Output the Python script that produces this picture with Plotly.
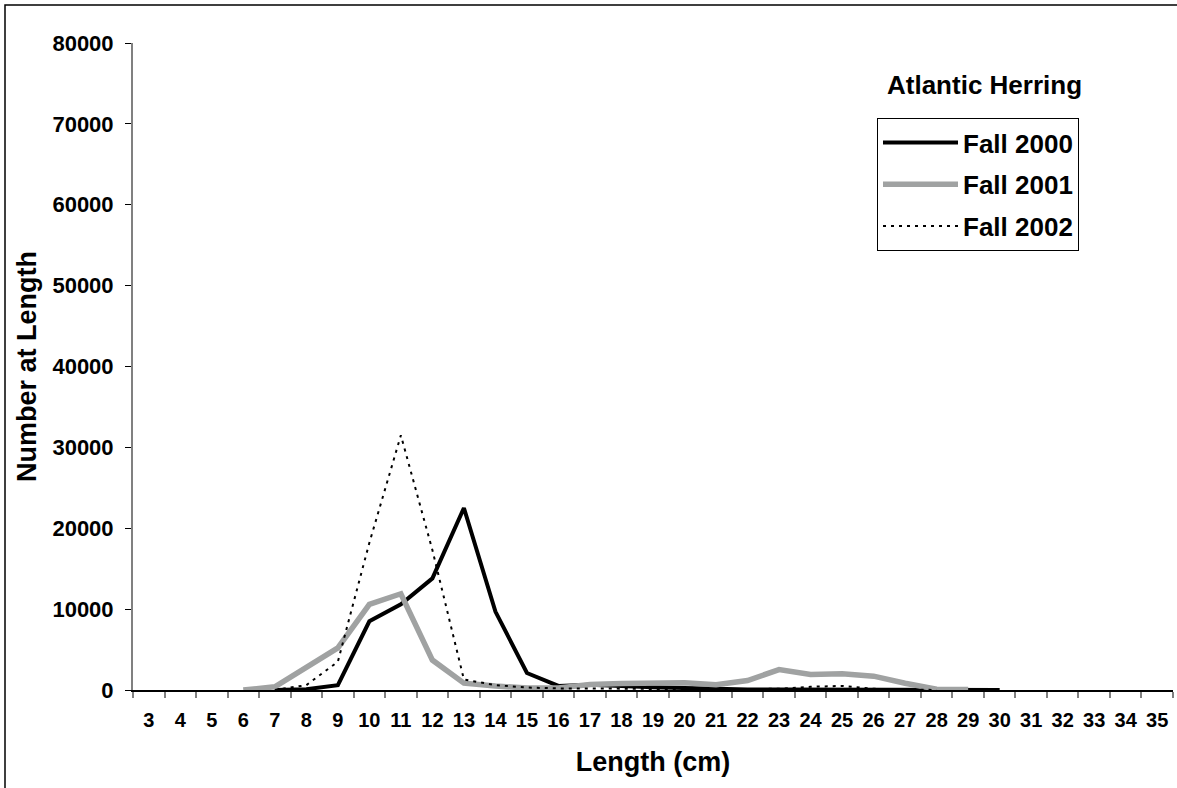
import plotly.graph_objects as go

# ---- data ----
lengths = [str(v) for v in range(3, 36)]
N = None
fall_2000 = [N, N, N, N, 0, 100, 600, 8500, 10600, 13800, 22500, 9700, 2100, 500,
             650, 450, 350, 250, 100, 50, 50, 50, 50, 50, 50, 50, 0, 0, N, N, N, N, N]
fall_2001 = [N, N, N, 0, 400, 2800, 5200, 10600, 11900, 3700, 850, 500, 250, 250,
             680, 800, 930, 890, 640, 1170, 2530, 1920, 2000, 1710, 840, 100, 50, N, N, N, N, N, N]
fall_2002 = [N, N, N, N, 0, 600, 3500, 18200, 31500, 17300, 1300, 600, 300, 200,
             200, 150, 150, 100, 100, 100, 150, 400, 500, 150, 100, 0, N, N, N, N, N, N, N]
series_names = ["Fall 2000", "Fall 2001", "Fall 2002"]
y_ticks = list(range(0, 80001, 10000))

FONT = "Liberation Sans, Arial, sans-serif"

W, H = 1177, 788
ML, MR, MT, MB = 133, 4, 43, 98
PW, PH = W - ML - MR, H - MT - MB


def px_x(x):
    return (x - ML) / PW


def px_y(y):
    return (H - MB - y) / PH


fig = go.Figure()
fig.add_trace(go.Scatter(x=lengths, y=fall_2000, name=series_names[0], mode="lines",
                         legendgroup="a",
                         line=dict(color="black", width=4)))
fig.add_trace(go.Scatter(x=lengths, y=fall_2001, name=series_names[1], mode="lines",
                         legendgroup="b",
                         line=dict(color="#a0a2a2", width=5.5)))
fig.add_trace(go.Scatter(x=lengths, y=fall_2002, name=series_names[2], mode="lines",
                         legendgroup="c",
                         line=dict(color="black", width=2, dash="3px,5px")))

fig.update_layout(
    width=W, height=H,
    margin=dict(l=ML, r=MR, t=MT, b=MB, autoexpand=False),
    paper_bgcolor="white", plot_bgcolor="white",
    font=dict(family=FONT, color="black"),
    showlegend=True,
    hovermode=False,
    legend=dict(
        x=px_x(877), y=px_y(118), xanchor="left", yanchor="top",
        bordercolor="black", borderwidth=1, bgcolor="white",
        font=dict(size=26, family=FONT, weight="bold"),
        itemwidth=75, tracegroupgap=5, traceorder="grouped",
    ),
    xaxis=dict(
        type="category", categoryorder="array", categoryarray=lengths,
        range=[-0.5, len(lengths) - 0.5],
        showline=True, linecolor="black", linewidth=1.5,
        ticks="outside", ticklen=6, tickcolor="#808080", tickwidth=1.5,
        tickson="boundaries", showgrid=False, zeroline=False,
        tickangle=0,
        tickfont=dict(size=20, family=FONT, weight="bold"),
        ticklabelstandoff=11,
        title=dict(text="Length (cm)", font=dict(size=27, family=FONT, weight="bold"),
                   standoff=22),
        automargin=False,
    ),
    yaxis=dict(
        range=[0, 80000], tickvals=y_ticks, tickformat="d",
        showline=True, linecolor="#808080", linewidth=2,
        ticks="outside", ticklen=6, tickcolor="black", tickwidth=1,
        showgrid=False, zeroline=False,
        tickfont=dict(size=22, family=FONT, weight="bold"),
        ticklabelstandoff=7,
        title=dict(text="Number at Length", font=dict(size=27, family=FONT, weight="bold"),
                   standoff=8),
        automargin=False,
    ),
    annotations=[dict(
        text="<b>Atlantic Herring</b>", xref="paper", yref="paper",
        x=px_x(984), y=px_y(85), xanchor="center", yanchor="middle",
        showarrow=False, font=dict(size=26, family=FONT, color="black"),
    )],
    shapes=[dict(
        type="rect", xref="paper", yref="paper",
        x0=px_x(5), x1=px_x(1200), y0=px_y(805), y1=px_y(5),
        line=dict(color="black", width=1.5), fillcolor="rgba(0,0,0,0)", layer="below",
    )],
)

fig.write_html("out.html", config={"displayModeBar": False},
               post_script="document.body.style.margin='0px';document.body.style.overflow='hidden';")
